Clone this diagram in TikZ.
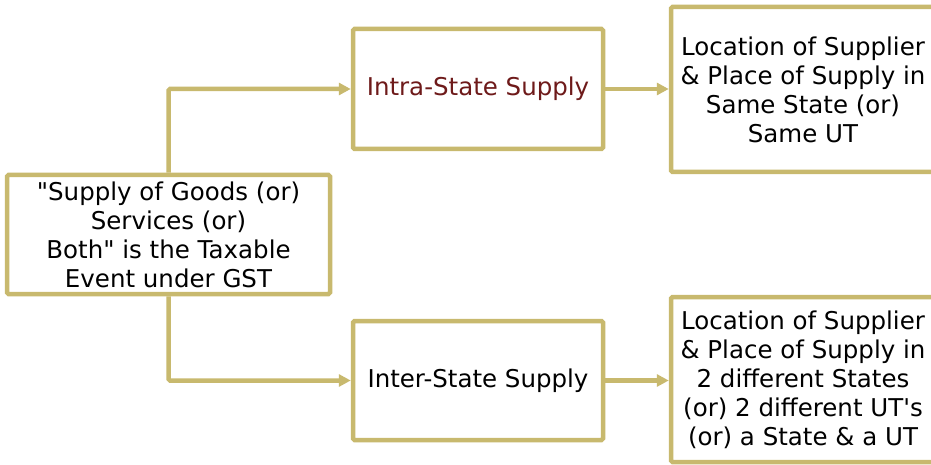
\documentclass[tikz,border=0pt]{standalone}
\usepackage{fontspec}
\setmainfont{DejaVu Sans}[Ligatures=TeXOff]
\usetikzlibrary{arrows.meta}
\definecolor{khaki}{HTML}{C8B96E}
\definecolor{maroon}{HTML}{6E1A1A}
\tikzset{
  box/.style={draw=khaki, line width=4.5pt, rounded corners=1.5pt, fill=white,
    align=center, inner sep=2pt, font=\fontsize{24.5}{29}\selectfont},
  link/.style={draw=khaki, line width=4.5pt, rounded corners=1.5pt,
    -{Triangle[length=12pt,width=12pt]}}
}
\begin{document}
\begin{tikzpicture}[x=1pt,y=1pt]
\useasboundingbox[clip] (0,0) rectangle (931,464);
\fill[white] (0,0) rectangle (931,464);
\node[box, minimum width=323pt, minimum height=119pt] (event) at (168.5,229.5)
  {"Supply of Goods (or)\\Services (or)\\Both" is the Taxable\\Event under GST};
\node[box, minimum width=250pt, minimum height=120pt, text=maroon] (intra) at (478,375)
  {Intra-State Supply};
\node[box, minimum width=250pt, minimum height=119pt] (inter) at (478,83.5)
  {Inter-State Supply};
\node[box, minimum width=264pt, minimum height=165pt] (same) at (803,374.5)
  {Location of Supplier\\\& Place of Supply in\\Same State (or)\\Same UT};
\node[box, minimum width=264pt, minimum height=165pt] (diff) at (803,84.5)
  {Location of Supplier\\\& Place of Supply in\\2 different States\\(or) 2 different UT's\\(or) a State \& a UT};
\draw[link] (event.north) |- (intra.west);
\draw[link] (event.south) |- (inter.west);
\draw[link] (intra.east) -- (same.west |- intra.east);
\draw[link] (inter.east) -- (diff.west |- inter.east);
\end{tikzpicture}
\end{document}
